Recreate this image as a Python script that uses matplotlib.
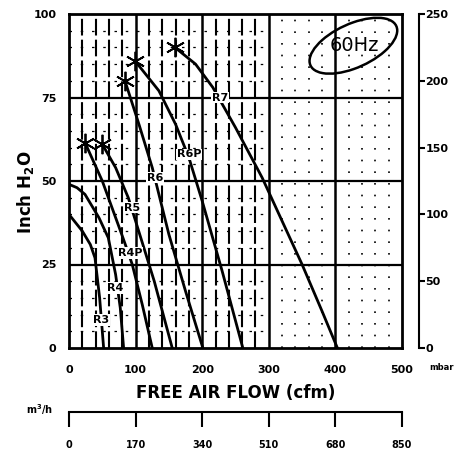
import matplotlib.pyplot as plt
from matplotlib.patches import Ellipse

# curve data: (cfm, inch H2O)
r3_cfm = [0, 20, 32, 39, 46, 52]
r3_in = [40, 35, 31, 27, 15, 0]
r4_cfm = [0, 12, 24, 45, 59, 70, 77, 82]
r4_in = [49, 48, 46, 39, 33, 22, 12, 0]
r4p_cfm = [24, 50, 81, 95, 110, 125]
r4p_in = [61.5, 50, 33, 25, 13, 0]
r5_cfm = [50, 70, 89, 100, 128, 155]
r5_in = [61, 54, 45, 38, 20, 0]
r6_cfm = [84, 105, 125, 150, 175, 201]
r6_in = [80, 67, 54, 34, 17, 0]
r6p_cfm = [99, 135, 160, 180, 200, 230, 261]
r6p_in = [86, 77, 67, 57, 44, 23, 0]
r7_cfm = [159, 190, 216, 250, 290, 320, 350, 380, 403]
r7_in = [90, 85, 78, 66, 51, 38, 25, 11, 0]

curves = [(r3_cfm, r3_in, False), (r4_cfm, r4_in, False),
          (r4p_cfm, r4p_in, True), (r5_cfm, r5_in, True),
          (r6_cfm, r6_in, True), (r6p_cfm, r6p_in, True),
          (r7_cfm, r7_in, True)]

labels = ['R3', 'R4', 'R4P', 'R5', 'R6', 'R6P', 'R7']
label_x = [48, 69, 92, 95, 129, 180, 227]
label_y = [8.4, 18, 28.4, 42, 51, 58, 75]

cfm_ticks = [0, 100, 200, 300, 400, 500]
in_ticks = [0, 25, 50, 75, 100]
mbar_ticks = [0, 50, 100, 150, 200, 250]
m3h_ticks = [0, 170, 340, 510, 680, 850]
m3h_labels = ['0', '170', '340', '510', '680', '850']

fig = plt.figure(figsize=(4.55, 4.55), dpi=100)
ax = fig.add_axes([69/455, 107/455, 333/455, 334/455])
ax.set_xlim(0, 500)
ax.set_ylim(0, 100)

# grid - left part dashed verticals every 20 cfm
for x in range(20, 300, 20):
    if x in (100, 200):
        continue
    ax.plot([x, x], [0, 100], color='black', lw=1.5, ls=(0, (8, 2)), zorder=1)
for x in (100, 200, 300, 400):
    ax.plot([x, x], [0, 100], color='black', lw=1.8, zorder=1)
for x in (320, 340, 360, 380, 420, 440, 460, 480):
    ax.plot([x, x], [0, 100], color='black', lw=1.2, ls=(0, (1, 6)), zorder=1)
for y in range(5, 100, 5):
    if y % 25 == 0:
        continue
    ax.plot([0, 300], [y, y], color='black', lw=0.9, ls=(0, (2, 7)), zorder=1)
for y in (25, 50, 75):
    ax.plot([0, 500], [y, y], color='black', lw=1.6, zorder=1)

for cx, cy, star in curves:
    ax.plot(cx, cy, color='black', lw=2, zorder=3)
    if star:
        ax.plot(cx[0], cy[0], marker=(6, 2, 0), ms=14, mew=1.3,
                color='black', zorder=4)

for t, x, y in zip(labels, label_x, label_y):
    ax.text(x, y, t, fontsize=8, fontweight='bold', ha='center', va='center',
            zorder=5, bbox=dict(facecolor='white', edgecolor='none', pad=0.5))

ax.add_patch(Ellipse((427, 90.5), 132, 14, angle=4, fill=False,
                     lw=1.8, color='black', zorder=5))
ax.text(429, 90.5, '60Hz', fontsize=14, ha='center', va='center', zorder=6)

for s in ax.spines.values():
    s.set_linewidth(2)
ax.set_xticks(cfm_ticks)
ax.set_yticks(in_ticks)
ax.tick_params(length=0, labelsize=8)
ax.tick_params(axis='x', pad=12)
ax.tick_params(axis='y', pad=9)
for lab in ax.get_xticklabels() + ax.get_yticklabels():
    lab.set_fontweight('bold')

# right mbar axis
ax2 = ax.twinx()
ax2.set_ylim(0, 250)
ax2.set_yticks(mbar_ticks)
for k in ('top', 'bottom', 'left'):
    ax2.spines[k].set_visible(False)
ax2.spines['right'].set_position(('outward', 12))
ax2.spines['right'].set_linewidth(1.5)
ax2.tick_params(axis='y', direction='out', length=4, width=1.5, labelsize=8, pad=1)
for lab in ax2.get_yticklabels():
    lab.set_fontweight('bold')

# bottom m3/h axis
ax3 = ax.twiny()
ax3.set_xlim(0, 850)
ax3.xaxis.set_ticks_position('bottom')
ax3.xaxis.set_label_position('bottom')
for k in ('top', 'left', 'right'):
    ax3.spines[k].set_visible(False)
ax3.spines['bottom'].set_position(('outward', 46))
ax3.spines['bottom'].set_linewidth(1.5)
ax3.set_xticks(m3h_ticks)
ax3.set_xticklabels(m3h_labels)
ax3.tick_params(axis='x', direction='out', length=11, width=1.5, labelsize=7, pad=9)
for lab in ax3.get_xticklabels():
    lab.set_fontweight('bold')

fig.text(25/455, 1 - 192/455, 'Inch H$_\\mathbf{2}$O', rotation=90, fontsize=12,
         fontweight='bold', ha='center', va='center')
fig.text(236/455, 1 - 393/455, 'FREE AIR FLOW (cfm)', fontsize=12,
         fontweight='bold', ha='center', va='center')
fig.text(429/455, 1 - 368/455, 'mbar', fontsize=6, fontweight='bold',
         ha='left', va='center')
fig.text(40/455, 1 - 410/455, 'm$^\\mathbf{3}$/h', fontsize=7, fontweight='bold',
         ha='center', va='center')

fig.savefig('out.png', dpi=100)
